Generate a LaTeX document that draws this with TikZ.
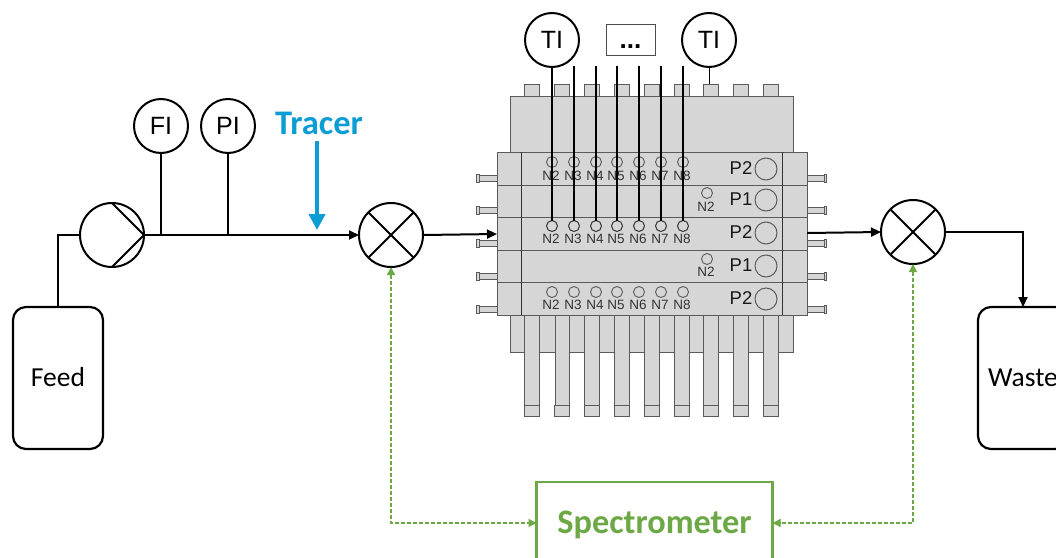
\documentclass[tikz,border=0pt]{standalone}
\usepackage{fontspec}
\setmainfont{Liberation Sans}
\newfontfamily\calibrifont{Carlito}
\usetikzlibrary{arrows.meta}
\definecolor{platefill}{HTML}{D6D6D6}
\definecolor{plateedge}{HTML}{5A5A5A}
\definecolor{tracerblue}{HTML}{0B9DD3}
\definecolor{specgreen}{HTML}{6CA845}
\tikzset{
  instrument/.style={draw, circle, line width=2, minimum size=54, inner sep=0, outer sep=0, font=\fontsize{25}{27}\selectfont},
  mixer/.style={draw, circle, line width=2, minimum size=64, inner sep=0, outer sep=0},
  vessel/.style={draw, rounded corners=13, line width=2.2, minimum width=90, minimum height=142, inner sep=0, outer sep=0, text height=18, text depth=2, font=\calibrifont\fontsize{27.5}{29}\selectfont},
  pipe/.style={line width=2, -{Triangle[length=10,width=9]}},
  plainpipe/.style={line width=2},
  signal/.style={specgreen, line width=1.3, dash pattern=on 4 off 2, {Triangle[length=8,width=8]}-{Triangle[length=8,width=8]}},
  plate/.style={draw=plateedge, fill=platefill, line width=1},
  port/.style={draw=plateedge, circle, line width=0.9, minimum size=11, inner sep=0, outer sep=0},
  probeport/.style={draw=black!80, circle, line width=1, minimum size=11, inner sep=0, outer sep=0},
  portlabel/.style={text=black!80, inner sep=0, font=\fontsize{13.5}{14}\selectfont},
  stage/.style={text=black!90, inner sep=0, font=\fontsize{18.5}{20}\selectfont},
  headport/.style={draw=plateedge, circle, line width=1, minimum size=22, inner sep=0, outer sep=0},
  probe/.style={line width=1.7}
}
\begin{document}
\begin{tikzpicture}[x=1pt, y=-1pt]
\useasboundingbox (0,0) rectangle (1056,557);
\clip (0,0) rectangle (1056,557);
\fill[white] (0,0) rectangle (1056,557);

\foreach \x in {524,554.5,584,614,644,674,703,733,763} {
  \draw[plate] (\x,84) rectangle (\x+15,96);
}
\draw[plate] (510,96) rectangle (793,152);
\draw[plate] (510,315) rectangle (793,352);
\foreach \x in {524,554.5,584,614,644,674,703,733,763} {
  \draw[plate] (\x+0.5,315) rectangle (\x+15,405);
  \draw[plate] (\x,405) rectangle (\x+15,416.5);
}
\foreach \y in {178,210.5,243,276,309} {
  \draw[plate] (479,\y-3) rectangle (497,\y+3);
  \draw[plate] (476.5,\y-4) rectangle (479,\y+4);
  \draw[plate] (807,\y-3) rectangle (824,\y+3);
  \draw[plate] (824,\y-4) rectangle (826.5,\y+4);
}
\foreach \t/\b in {152/185,185/217,217/250,250/282,282/315} {
  \draw[plate] (497,\t) rectangle (807,\b);
  \draw[black!80, line width=0.9] (521,\t) -- (521,\b);
  \draw[black!80, line width=0.9] (782,\t) -- (782,\b);
}

\foreach \x/\n in {552/2,574/3,596/4,617/5,639/6,661/7,683/8} {
  \node[port] (upper\n) at (\x,162) {};
  \node[portlabel] (upperlabel\n) at (\x-1,176) {N\n};
  \node[probeport] (middle\n) at (\x,226) {};
  \node[portlabel] (middlelabel\n) at (\x-1,239) {N\n};
  \node[port] (lower\n) at (\x,292) {};
  \node[portlabel] (lowerlabel\n) at (\x-1,305) {N\n};
}
\node[port] (sideport1) at (707,193) {};
\node[portlabel] (sidelabel1) at (706,207) {N2};
\node[port] (sideport2) at (707,259) {};
\node[portlabel] (sidelabel2) at (706,272) {N2};

\foreach \n/\p/\y in {1/P2/168,2/P1/199,3/P2/232,4/P1/265,5/P2/298} {
  \node[stage] (stage\n) at (741,\y) {\p};
  \node[headport] (head\n) at (766,\y+1) {};
}

\node[vessel] (feed) at (58,378) {Feed};
\node[vessel] (waste) at (1023,378) {Waste};
\node[mixer] (pump) at (112,235) {};
\node[mixer] (mixerin) at (391,235) {};
\node[mixer] (mixerout) at (913,232) {};
\node[instrument] (fi) at (161,126) {FI};
\node[instrument] (pi) at (228,126) {PI};
\node[instrument] (tileft) at (552,40) {TI};
\node[instrument] (tiright) at (709,40) {TI};
\node[draw=black!70, line width=1, minimum width=49, minimum height=31, inner sep=0, outer sep=0, text height=18, text depth=0, font=\bfseries\fontsize{26}{27}\selectfont] (dots) at (630.5,39.5) {...};
\node[text=tracerblue, inner sep=0, font=\calibrifont\bfseries\fontsize{34.5}{36}\selectfont] (tracer) at (319,123) {Tracer};
\node[draw=specgreen, text=specgreen, line width=2.6, minimum width=236, minimum height=82, inner sep=0, outer sep=0, text height=23, text depth=3, font=\calibrifont\bfseries\fontsize{34.3}{36}\selectfont] (spectrometer) at (654.5,523) {Spectrometer};

\draw[line width=2] (pump.90) -- (pump.0) -- (pump.-90);
\draw[line width=2] (mixerin.45) -- (mixerin.225);
\draw[line width=2] (mixerin.135) -- (mixerin.-45);
\draw[line width=2] (mixerout.45) -- (mixerout.225);
\draw[line width=2] (mixerout.135) -- (mixerout.-45);

\coordinate (tap1) at (161,235);
\coordinate (tap2) at (228,235);
\coordinate (tracerstart) at (317,141);
\coordinate (tracerend) at (317,230);
\coordinate (stackin) at (497,234);
\coordinate (stackout) at (807,233);
\coordinate (tabtop) at (709,84);

\draw[plainpipe] (feed.north) |- (pump.west);
\draw[pipe] (pump.east) -- (mixerin.west);
\draw[line width=1.4] (fi.south) -- (tap1);
\draw[line width=1.4] (pi.south) -- (tap2);
\draw[tracerblue, line width=4.4, -{Triangle[length=16,width=16]}] (tracerstart) -- (tracerend);
\draw[pipe] (mixerin.east) -- (stackin);
\draw[pipe] (stackout) -- (mixerout.west);
\draw[pipe] (mixerout.east) -| (waste.north);
\draw[signal] (mixerin.south) |- (spectrometer.west);
\draw[signal] (mixerout.south) |- (spectrometer.east);

\draw[probe] (tileft.south) -- (middle2.north);
\foreach \x/\n in {574/3,596/4,617/5,639/6,661/7,683/8} {
  \coordinate (probetop\n) at (\x,66);
  \draw[probe] (probetop\n) -- (middle\n.north);
}
\draw[line width=1.0] (tiright.south) -- (tabtop);
\end{tikzpicture}
\end{document}
